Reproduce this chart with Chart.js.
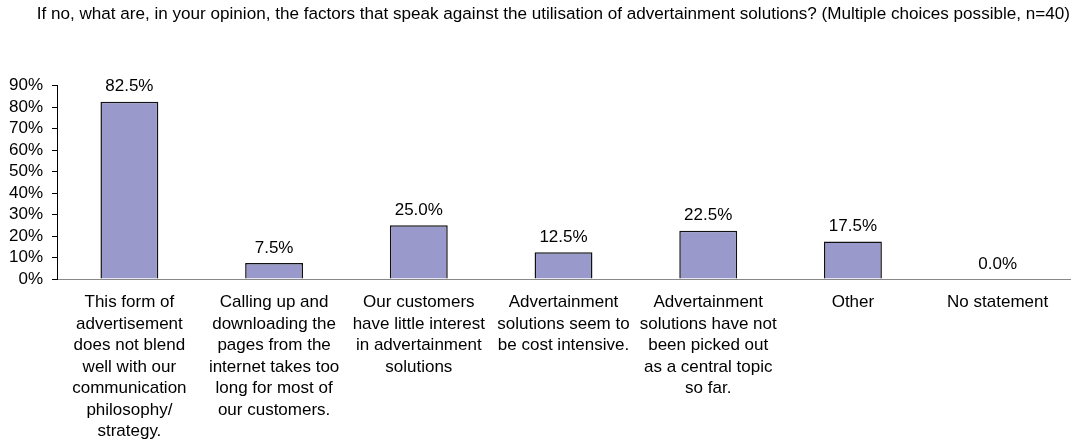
<!DOCTYPE html>
<html>
<head>
<meta charset="utf-8">
<script src="https://cdn.jsdelivr.net/npm/chart.js@4"></script>
<style>
  html, body { margin: 0; padding: 0; background: #fff; }
  #wrap { width: 1075px; height: 441px; }
</style>
</head>
<body>
<div id="wrap"><canvas id="chart" width="1075" height="441"></canvas></div>
<script>
// Survey answers, share of respondents in percent
const categories = [
    ["This form of", "advertisement", "does not blend", "well with our", "communication", "philosophy/", "strategy."],
    ["Calling up and", "downloading the", "pages from the", "internet takes too", "long for most of", "our customers."],
    ["Our customers", "have little interest", "in advertainment", "solutions"],
    ["Advertainment", "solutions seem to", "be cost intensive."],
    ["Advertainment", "solutions have not", "been picked out", "as a central topic", "so far."],
    ["Other"],
    ["No statement"]
];
const values = [82.5, 7.5, 25.0, 12.5, 22.5, 17.5, 0.0];
const yTicks = [0, 10, 20, 30, 40, 50, 60, 70, 80, 90];

const titleText = "If no, what are, in your opinion, the factors that speak against the utilisation of advertainment solutions? (Multiple choices possible, n=40)";
const fontFamily = "'Liberation Sans', Arial, sans-serif";

// value labels above each bar
const valueLabels = {
    id: "valueLabels",
    afterDatasetsDraw(chart) {
        const ctx = chart.ctx;
        const meta = chart.getDatasetMeta(0);
        ctx.save();
        ctx.font = "17px " + fontFamily;
        ctx.fillStyle = "#000";
        ctx.textAlign = "center";
        ctx.textBaseline = "middle";
        meta.data.forEach((bar, i) => {
            ctx.fillText(values[i].toFixed(1) + "%", bar.x, bar.y - 15);
        });
        ctx.restore();
    }
};

new Chart(document.getElementById("chart"), {
    type: "bar",
    data: {
        labels: categories,
        datasets: [{
            data: values,
            backgroundColor: "#9999cc",
            borderColor: "#111",
            borderWidth: 1.5,
            barPercentage: 0.4,
            categoryPercentage: 1.0
        }]
    },
    options: {
        responsive: false,
        animation: false,
        layout: { padding: { left: 0, right: 5, top: 0, bottom: -6 } },
        plugins: {
            legend: { display: false },
            tooltip: { enabled: false },
            title: {
                display: true,
                text: titleText,
                align: "end",
                color: "#000",
                font: { family: fontFamily, size: 17.1, weight: "normal", lineHeight: 1.2 },
                padding: { top: 4, bottom: 61 }
            }
        },
        scales: {
            x: {
                grid: { display: false },
                border: { display: true, color: "#888", width: 1 },
                ticks: {
                    color: "#000",
                    font: { family: fontFamily, size: 17, lineHeight: 1.26 },
                    maxRotation: 0,
                    autoSkip: false,
                    padding: 5
                }
            },
            y: {
                min: 0,
                max: 90,
                afterBuildTicks(axis) {
                    axis.ticks = yTicks.map(v => ({ value: v }));
                },
                grid: { drawOnChartArea: false, drawTicks: true, tickLength: 5, color: "#000" },
                border: { display: true, color: "#000", width: 1 },
                ticks: {
                    color: "#000",
                    font: { family: fontFamily, size: 17 },
                    padding: 9,
                    autoSkip: false,
                    callback: v => v + "%"
                }
            }
        }
    },
    plugins: [valueLabels]
});
</script>
</body>
</html>
